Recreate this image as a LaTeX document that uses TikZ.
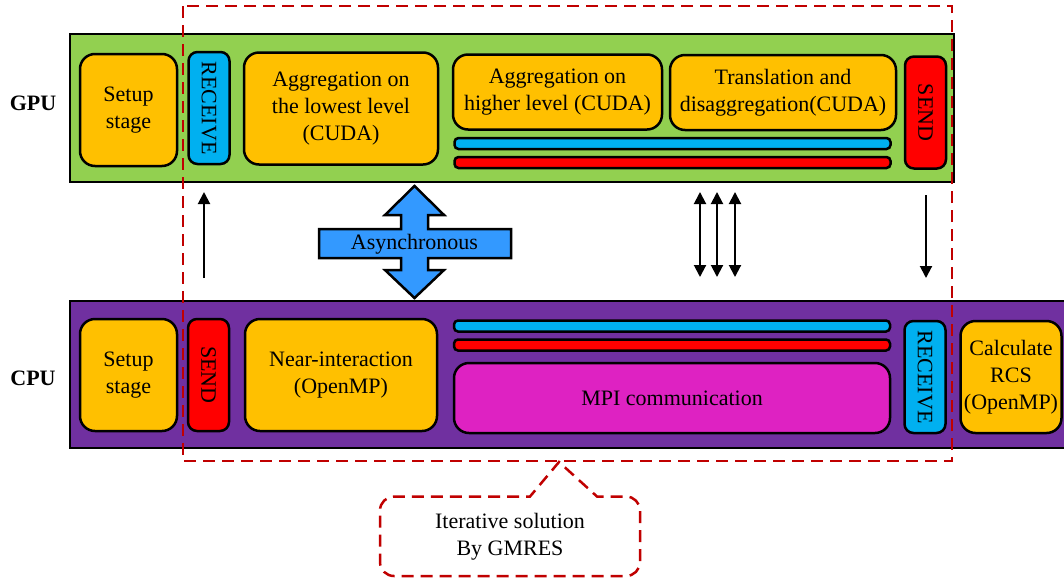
\documentclass[tikz,border=0pt]{standalone}
\usepackage{fontspec}
\setmainfont{Liberation Serif}
\usepackage{tikz}
\usetikzlibrary{arrows.meta,positioning,calc}
\definecolor{gpugreen}{HTML}{92D050}
\definecolor{cpupurple}{HTML}{7030A0}
\definecolor{stageorange}{HTML}{FFC000}
\definecolor{recvblue}{HTML}{00B0F0}
\definecolor{sendred}{HTML}{FF0000}
\definecolor{mpimagenta}{HTML}{DE22C2}
\definecolor{loopred}{HTML}{C00000}
\definecolor{asyncblue}{HTML}{3399FF}
\tikzstyle{panel}=[draw, line width=2pt, inner sep=0pt]
\tikzstyle{etage}=[draw, line width=2.5pt, fill=stageorange, rounded corners=15pt,
align=center, inner sep=0pt, font=\fontsize{22}{27}\selectfont]
\tikzstyle{recv}=[etage, fill=recvblue, rounded corners=9pt, rotate=-90,
minimum width=112pt, minimum height=41pt]
\tikzstyle{envoi}=[recv, fill=sendred]
\tikzstyle{barre}=[draw, line width=2.5pt, rounded corners=4pt, inner sep=0pt,
minimum width=436pt, minimum height=11pt]
\tikzstyle{unite}=[font=\bfseries\fontsize{22}{26}\selectfont]
\tikzstyle{croix}=[draw, line width=2.5pt, fill=asyncblue, line join=miter]
\tikzstyle{line}=[draw, line width=2pt, -{Triangle[length=12pt,width=12pt]}]
\tikzstyle{dline}=[line, {Triangle[length=12pt,width=12pt]}-{Triangle[length=12pt,width=12pt]}]
\tikzstyle{boucle}=[draw=loopred, line width=2.5pt, dash pattern=on 12pt off 7pt]
\newcommand{\etage}[3]{node (#1)[etage,#2]{#3}}
\newcommand{\barre}[2]{node (#1)[barre,fill=#2]{}}
\begin{document}
\begin{tikzpicture}[x=1pt,y=-1pt]
		\useasboundingbox (0,0) rectangle (1064,579);
		
		% Draw the two panels
		\node (gpu)[panel, fill=gpugreen, minimum width=884pt, minimum height=148pt] at (512,108) {};
		\node (cpu)[panel, fill=cpupurple, minimum width=1000pt, minimum height=147pt] at (570,374.5) {};
		\node (lgpu)[unite] at (33,103) {GPU};
		\node (lcpu)[unite] at (33,378) {CPU};
		
		% Draw diagram elements (GPU)
		\path (128.5,110) \etage{gsetup}{minimum width=97pt, minimum height=112pt}{Setup\\stage};
		\path (209,108) \etage{grecv}{recv}{RECEIVE};
		\path (341,108.5) \etage{gagglow}{minimum width=194pt, minimum height=112pt}{Aggregation on\\the lowest level\\(CUDA)};
		\path (557.5,92) \etage{gagghigh}{minimum width=209pt, minimum height=75pt}{Aggregation on\\higher level (CUDA)};
		\path (783,92.5) \etage{gtrans}{minimum width=226pt, minimum height=75pt}{Translation and\\disaggregation(CUDA)};
		\path (672.5,143.5) \barre{gbarb}{recvblue};
		\path (gbarb.center)+(0,19) \barre{gbarr}{sendred};
		\path (925.5,112.5) \etage{gsend}{envoi}{SEND};
		
		% Draw diagram elements (CPU)
		\path (128.5,375) \etage{csetup}{minimum width=97pt, minimum height=112pt}{Setup\\stage};
		\path (208.5,375) \etage{csend}{envoi}{SEND};
		\path (341,375) \etage{cnear}{minimum width=192pt, minimum height=112pt}{Near-interaction\\(OpenMP)};
		\path (672,326) \barre{cbarb}{recvblue};
		\path (cbarb.center)+(0,19) \barre{cbarr}{sendred};
		\path (672,398) \etage{cmpi}{fill=mpimagenta, minimum width=436pt, minimum height=70pt}{MPI communication};
		\path (925,377) \etage{crecv}{recv}{RECEIVE};
		\path (1011,377) \etage{crcs}{minimum width=101pt, minimum height=112pt}{Calculate\\RCS\\(OpenMP)};
		
		% Asynchronous cross arrow
		\path[croix, shift={(414.5,243.5)}] (0,-57.5) -- (29.5,-28.5) -- (13.5,-28.5) -- (13.5,-14.5)
		-- (96.5,-14.5) -- (96.5,14.5) -- (13.5,14.5) -- (13.5,26.5) -- (29.5,26.5) -- (0,54.5)
		-- (-29.5,26.5) -- (-13.5,26.5) -- (-13.5,14.5) -- (-95.5,14.5) -- (-95.5,-14.5)
		-- (-13.5,-14.5) -- (-13.5,-28.5) -- (-29.5,-28.5) -- cycle;
		\node (async)[font=\fontsize{22}{26}\selectfont] at (414.5,244) {Asynchronous};
		
		% Draw arrows between elements
		\coordinate (upa) at (204,278);
		\coordinate (upb) at (204,192);
		\coordinate (dna) at (926,195);
		\coordinate (dnb) at (926,278);
		\path [line] (upa) -- (upb);
		\path [line] (dna) -- (dnb);
		\foreach \x in {700,717,735} {
			\coordinate (m\x a) at (\x,192);
			\coordinate (m\x b) at (\x,277);
			\path [dline] (m\x a) -- (m\x b);
		}
		
		% Iterative loop and its callout
		\draw[boucle] (183,6) rectangle (952,461);
		\node (gmres)[align=center, font=\fontsize{22}{27}\selectfont] at (510,537) {Iterative solution\\By GMRES};
		\draw[boucle] (455,496.5) -- (530,496.5) -- (559,462) -- (597,496.5) [rounded corners=14pt]
		-- (640,496.5) -- (640,576) -- (380,576) -- (380,496.5) -- cycle;
		
\end{tikzpicture}
\end{document}
